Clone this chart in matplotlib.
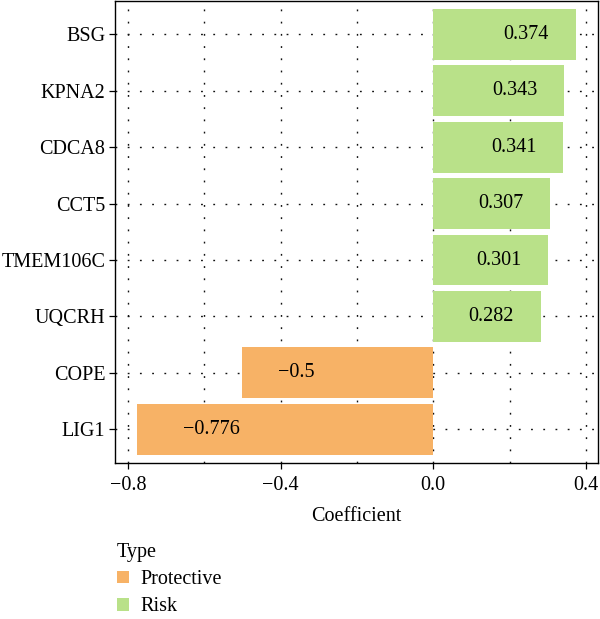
import numpy as np
import matplotlib.pyplot as plt
from matplotlib.patches import Patch

# дані
genes = ["BSG", "KPNA2", "CDCA8", "CCT5", "TMEM106C", "UQCRH", "COPE", "LIG1"]
coef = [0.374, 0.343, 0.341, 0.307, 0.301, 0.282, -0.5, -0.776]
labels = ["0.374", "0.343", "0.341", "0.307", "0.301", "0.282", "\u22120.5", "\u22120.776"]

col_prot = "#F7B266"
col_risk = "#B9E189"

plt.rcParams["font.family"] = ["Liberation Serif", "DejaVu Serif"]
plt.rcParams["axes.unicode_minus"] = True
fs = 14.5

fig = plt.figure(figsize=(6, 6.19), dpi=100)
ax = fig.add_axes([115 / 600, 1 - 463 / 619, 483 / 600, 463 / 619 - 0.001])

y = np.arange(len(genes))[::-1]
colors = [col_risk if c > 0 else col_prot for c in coef]

# сітка
ax.set_xticks([-0.8, -0.4, 0.0, 0.4])
ax.set_xticks([-0.6, -0.2, 0.2], minor=True)
ax.tick_params(axis="x", which="minor", length=0)
dots = (0, (1.3, 7.5))
ax.grid(True, which="both", axis="x", color="#111111", linestyle=dots, linewidth=1.0)
ax.grid(True, which="major", axis="y", color="#111111", linestyle=dots, linewidth=1.0)
ax.set_axisbelow(True)

ax.barh(y, coef, height=0.9, color=colors, zorder=2)

# підписи значень
for yi, c, lab in zip(y, coef, labels):
    if c > 0:
        ax.text(c - 0.13, yi, lab, ha="center", va="center", fontsize=fs, zorder=3)
    else:
        ax.text(0.8 * c + 0.04, yi, lab, ha="center", va="center", fontsize=fs, zorder=3)

ax.set_yticks(y)
ax.set_yticklabels(genes)
ax.set_xticklabels(["\u22120.8", "\u22120.4", "0.0", "0.4"])
ax.set_xlim(-0.8335, 0.4315)
ax.set_ylim(-0.6, len(genes) - 0.4)
ax.tick_params(axis="both", which="major", labelsize=fs, length=4, width=0.9, color="black", pad=3)
ax.tick_params(axis="x", which="major", pad=5)
for s in ax.spines.values():
    s.set_linewidth(1.0)
    s.set_color("black")

ax.set_xlabel("Coefficient", fontsize=fs, labelpad=9)

handles = [Patch(facecolor=col_prot, edgecolor="none", label="Protective"),
           Patch(facecolor=col_risk, edgecolor="none", label="Risk")]
leg = fig.legend(handles=handles, title="Type", loc="upper left",
                 bbox_to_anchor=(96 / 600, 1 - 522 / 619), frameon=False,
                 fontsize=fs, title_fontsize=fs, handlelength=0.6, handleheight=0.6,
                 handletextpad=0.55, labelspacing=0.4, borderpad=0.55)
leg._legend_box.align = "left"

fig.savefig("out.png", dpi=100)
